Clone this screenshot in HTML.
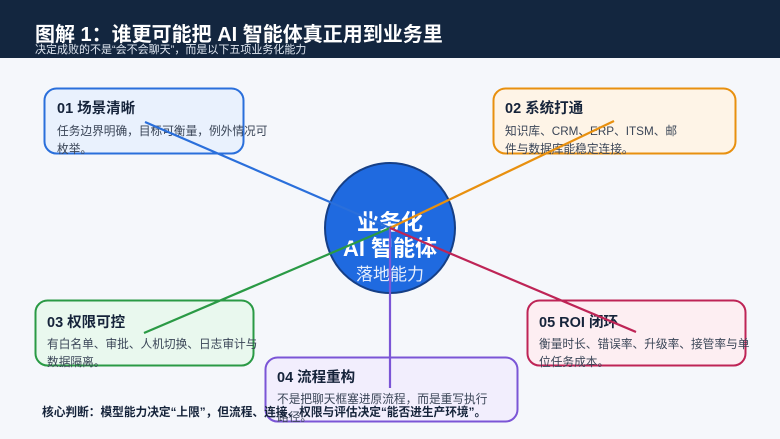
<!DOCTYPE html>
<html><head><meta charset="utf-8"><style>
html,body{margin:0;padding:0;background:#f5f7fb;}
svg{display:block;}
text{font-family:"Liberation Sans","Noto Sans CJK SC",sans-serif;}
</style></head><body>
<svg width="780" height="439" viewBox="0 0 780 439" xmlns="http://www.w3.org/2000/svg">
<rect x="0" y="0" width="780" height="439" fill="#f5f7fb"/>
<rect x="0" y="0" width="780" height="58" fill="#13263f"/>
<text x="35" y="41" font-size="20" font-weight="bold" fill="#ffffff">图解 1：谁更可能把 AI 智能体真正用到业务里</text>
<text x="35" y="53" font-size="11" fill="#dfe6f0">决定成败的不是“会不会聊天”，而是以下五项业务化能力</text>

<rect x="44.5" y="88.5" width="199" height="65" rx="12" fill="#e9f1fd" stroke="#2a6fdb" stroke-width="2"/>
<rect x="493.5" y="88.5" width="242" height="65" rx="12" fill="#fef4e7" stroke="#e8900f" stroke-width="2"/>
<rect x="35.5" y="300.5" width="218" height="65" rx="12" fill="#e9f8ee" stroke="#2a9a45" stroke-width="2"/>
<rect x="265.5" y="357.5" width="252" height="64" rx="12" fill="#f2eefd" stroke="#7b55d6" stroke-width="2"/>
<rect x="527.5" y="300.5" width="218" height="65" rx="12" fill="#fdeef2" stroke="#be2456" stroke-width="2"/>

<circle cx="390" cy="228" r="65" fill="#1f6ae0" stroke="#163f86" stroke-width="2"/>
<text x="390" y="230" font-size="22" font-weight="bold" fill="#fff" text-anchor="middle">业务化</text>
<text x="390" y="256" font-size="22" font-weight="bold" fill="#fff" text-anchor="middle">AI 智能体</text>
<text x="390" y="280" font-size="17" fill="#e6eefc" text-anchor="middle">落地能力</text>

<g font-size="14.5" font-weight="bold" fill="#15233a">
<text x="57" y="113">01 场景清晰</text>
<text x="505" y="113">02 系统打通</text>
<text x="47" y="327">03 权限可控</text>
<text x="277" y="382">04 流程重构</text>
<text x="539" y="327">05 ROI 闭环</text>
</g>
<g font-size="11.7" fill="#3a4557">
<text x="57" y="135">任务边界明确，目标可衡量，例外情况可</text>
<text x="57" y="153">枚举。</text>
<text x="505" y="135">知识库、CRM、ERP、ITSM、邮</text>
<text x="505" y="153">件与数据库能稳定连接。</text>
<text x="47" y="348">有白名单、审批、人机切换、日志审计与</text>
<text x="47" y="366">数据隔离。</text>
<text x="277" y="403">不是把聊天框塞进原流程，而是重写执行</text>
<text x="277" y="421">路径。</text>
<text x="539" y="348">衡量时长、错误率、升级率、接管率与单</text>
<text x="539" y="366">位任务成本。</text>
</g>

<g stroke-width="2.2" fill="none">
<line x1="390" y1="228" x2="145" y2="122" stroke="#2a6fdb"/>
<line x1="390" y1="228" x2="614" y2="121" stroke="#e8900f"/>
<line x1="390" y1="228" x2="144" y2="333" stroke="#2a9a45"/>
<line x1="390" y1="228" x2="390" y2="388" stroke="#7b55d6"/>
<line x1="390" y1="228" x2="636" y2="332" stroke="#be2456"/>
</g>

<text x="42" y="416" font-size="11.7" font-weight="bold" fill="#15233a">核心判断：模型能力决定“上限”，但流程、连接、权限与评估决定“能否进生产环境”。</text>
</svg>
</body></html>
